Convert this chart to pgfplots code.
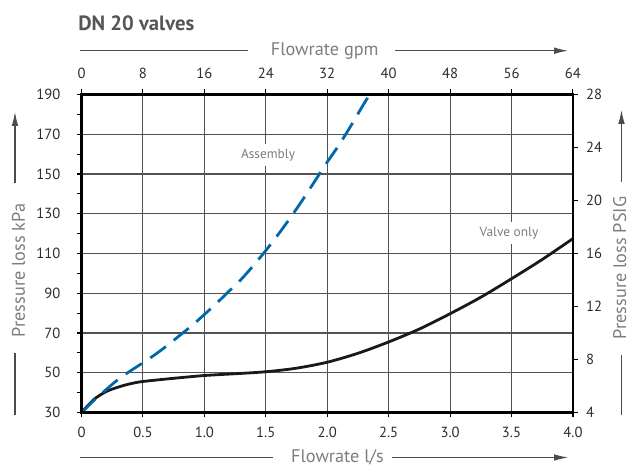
\documentclass[border=0pt]{standalone}
\usepackage{pgfplots}
\pgfplotsset{compat=1.18}
\usepackage{fontspec}
\setmainfont{PT Sans}
\usetikzlibrary{arrows.meta}
\definecolor{curveblue}{RGB}{0,104,170}
\definecolor{labgray}{RGB}{125,125,125}
\definecolor{tickgray}{RGB}{45,45,45}
\definecolor{titlegray}{RGB}{85,85,85}
\begin{document}
\begin{tikzpicture}
\path[use as bounding box] (0,0) rectangle (471.75pt,350.25pt);
\begin{axis}[
  at={(61.125pt,40.875pt)}, anchor=south west,
  scale only axis, width=368.6pt, height=238.5pt,
  xmin=0, xmax=4, ymin=30, ymax=190,
  xtick={0,0.5,1,1.5,2,2.5,3,3.5,4},
  xticklabels={0,0.5,1.0,1.5,2.0,2.5,3.0,3.5,4.0},
  ytick={30,50,...,190},
  minor ytick={40,60,...,180},
  xtick pos=bottom, ytick pos=left,
  tick align=outside,
  major tick length=3.75pt, minor tick length=3.75pt,
  every tick/.style={black, line width=0.8pt},
  grid=major,
  major grid style={black!68, line width=0.8pt},
  axis line style={black, line width=1.8pt},
  tick label style={font=\fontsize{11}{13}\selectfont, text=tickgray},
  yticklabel shift=8.5pt,
  xticklabel shift=3.5pt,
  /pgf/number format/assume math mode=true,
]
\addplot[black!90, line width=2.1pt, smooth] coordinates {
(0,30) (0.1,36.5) (0.2,40.5) (0.3,42.8) (0.4,44.5) (0.5,45.6) (0.75,47.2)
(1.0,48.6) (1.25,49.5) (1.5,50.5) (1.75,52.3) (2.0,55.3) (2.25,59.8)
(2.5,65.5) (2.75,72) (3.0,79.7) (3.25,88) (3.5,97.3) (3.75,107) (4.0,117.5)
};
\addplot[curveblue, line width=2.1pt, smooth, dash pattern=on 14.5pt off 7.5pt] coordinates {
(0,30) (0.1,36) (0.2,41.5) (0.3,46.7) (0.4,51) (0.5,55) (0.6,59.2) (0.7,63.8)
(0.8,68.8) (0.9,73.8) (1.0,79.3) (1.1,85) (1.2,91) (1.3,97) (1.4,104)
(1.5,111.5) (1.6,119.5) (1.7,128) (1.8,137) (1.9,146.5) (2.0,156)
(2.1,165) (2.2,175) (2.3,185.5) (2.347,190)
};
\end{axis}
\begin{axis}[
  at={(61.125pt,40.875pt)}, anchor=south west,
  scale only axis, width=368.6pt, height=238.5pt,
  xmin=0, xmax=64, ymin=4, ymax=28,
  xtick={0,8,...,64}, ytick={4,8,...,28},
  xtick pos=top, ytick pos=right,
  tick align=outside,
  major tick length=3.75pt,
  every tick/.style={black, line width=0.8pt},
  axis line style={black, line width=1.8pt},
  tick label style={font=\fontsize{11}{13}\selectfont, text=tickgray},
  xticklabel shift=4.5pt,
  yticklabel shift=2.5pt,
  /pgf/number format/assume math mode=true,
]
\addplot[draw=none] coordinates {(0,4)};
\end{axis}
\begin{scope}[x=0.75pt,y=0.75pt]
% curve labels
\node[fill=white, inner xsep=2pt, inner ysep=3.5pt, text=labgray, font=\fontsize{10}{12}\selectfont] at (268,312) {Assembly};
\node[fill=white, inner xsep=2pt, inner ysep=3.5pt, text=labgray, font=\fontsize{10}{12}\selectfont] at (509,234) {Valve only};
% title
\node[anchor=base west, inner sep=0pt, text=titlegray, font=\fontsize{15.5}{18}\selectfont\bfseries] at (78,436) {DN 20 valves};
% top label
\node[anchor=base, inner sep=0pt, text=labgray, font=\fontsize{13.7}{16}\selectfont] at (324.7,411) {Flowrate gpm};
\draw[black!70, line width=0.8pt] (80,416.3) -- (248,416.3);
\draw[black!70, line width=0.8pt, -{Latex[length=10.5pt,width=5pt]}] (395,416.3) -- (568,416.3);
% bottom label
\node[anchor=base, inner sep=0pt, text=labgray, font=\fontsize{13.7}{16}\selectfont] at (337.5,4.5) {Flowrate l/s};
\draw[black!70, line width=0.8pt] (80,9.5) -- (273,9.5);
\draw[black!70, line width=0.8pt, -{Latex[length=10.5pt,width=5pt]}] (392,9.5) -- (568,9.5);
% left label
\node[anchor=base, rotate=90, inner sep=0pt, text=labgray, font=\fontsize{13.7}{16}\selectfont] at (25,196.5) {Pressure loss kPa};
\draw[black!70, line width=0.8pt] (15,52) -- (15,114);
\draw[black!70, line width=0.8pt, -{Latex[length=10.5pt,width=5pt]}] (15,284) -- (15,355);
% right label
\node[anchor=base, rotate=90, inner sep=0pt, text=labgray, font=\fontsize{13.7}{16}\selectfont] at (626,199) {Pressure loss PSIG};
\draw[black!70, line width=0.8pt] (621.5,52) -- (621.5,112);
\draw[black!70, line width=0.8pt, -{Latex[length=10.5pt,width=5pt]}] (621.5,285) -- (621.5,357);
\end{scope}
\end{tikzpicture}
\end{document}
